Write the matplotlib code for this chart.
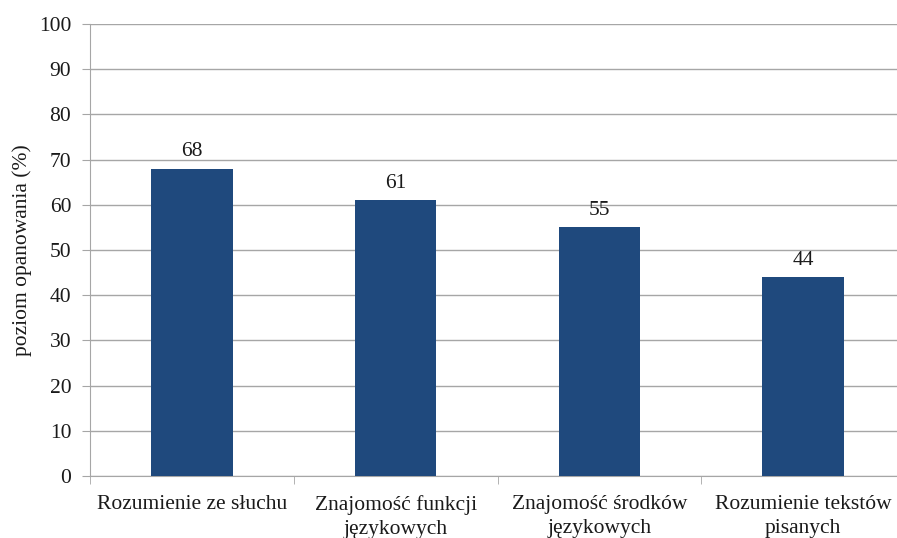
import matplotlib
matplotlib.use("Agg")
import matplotlib.pyplot as plt
import numpy as np

categories = ["Rozumienie ze słuchu", "Znajomość funkcji\njęzykowych",
              "Znajomość środków\njęzykowych", "Rozumienie tekstów\npisanych"]
values = [68, 61, 55, 44]
y_ticks = list(range(0, 101, 10))

plt.rcParams['font.family'] = ['Liberation Serif', 'DejaVu Serif']

W, H = 897, 538
fig = plt.figure(figsize=(W / 100, H / 100), dpi=100)
ax = fig.add_axes([90 / W, (H - 476) / H, (905 - 90) / W, (476 - 24) / H])

bar_color = "#1F497D"
grid_color = "#A6A6A6"
text_color = "#1a1a1a"
fs = 15.5

x = np.arange(len(categories))
ax.bar(x, values, width=0.4, color=bar_color, zorder=3)
for xi, v in zip(x, values):
    ax.text(xi, v + 1.6, f"{v}", ha="center", va="bottom", fontsize=fs, color=text_color)

ax.set_xlim(-0.5, len(categories) - 0.5)
ax.set_ylim(0, 100)
ax.set_yticks(y_ticks)
ax.yaxis.grid(True, color=grid_color, linewidth=1.0, zorder=0)
ax.tick_params(axis="y", length=6, color=grid_color, labelsize=fs, pad=7.5, labelcolor=text_color)

# category labels centred under bars, tick marks at category boundaries
ax.set_xticks(x)
ax.set_xticklabels(categories, fontsize=fs, color=text_color, linespacing=1.3)
ax.tick_params(axis="x", length=0, pad=14)
ax.set_xticks(np.arange(-0.5, len(categories) + 0.5, 1), minor=True)
ax.tick_params(axis="x", which="minor", length=6, color=grid_color)

for side in ["top", "right"]:
    ax.spines[side].set_visible(False)
ax.spines["left"].set_color(grid_color)
ax.spines["bottom"].set_color(grid_color)

ax.set_ylabel("poziom opanowania (%)", fontsize=fs, color=text_color, labelpad=5)

fig.savefig("out.png", dpi=100)
